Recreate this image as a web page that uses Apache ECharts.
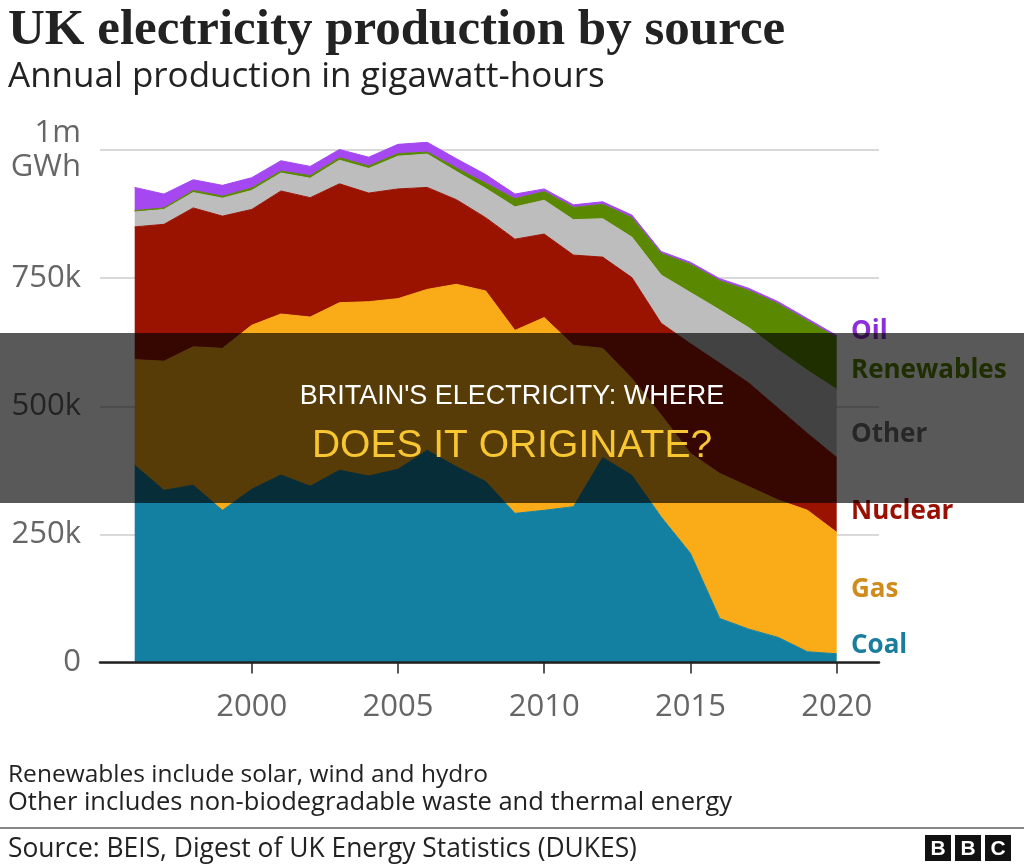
<!DOCTYPE html>
<html>
<head>
<meta charset="utf-8">
<script src="https://cdn.jsdelivr.net/npm/echarts@6/dist/echarts.min.js"></script>
<style>
    html, body { margin: 0; padding: 0; background: #fff; }
    #chart { width: 1024px; height: 864px; }
</style>
</head>
<body>
<div id="chart"></div>
<script>
// thousand GWh per year, stacked bottom to top
const years = ['1996', '1997', '1998', '1999', '2000', '2001', '2002', '2003', '2004', '2005', '2006', '2007', '2008',
    '2009', '2010', '2011', '2012', '2013', '2014', '2015', '2016', '2017', '2018', '2019', '2020']
const coal = [385, 336, 346, 297, 338, 366, 344, 375, 364, 377, 414, 382, 353,
    291, 297, 304, 400, 365, 284, 213, 86, 65, 49, 21, 17]
const gas = [206, 252, 270, 316, 320, 314, 330, 327, 340, 333, 314, 356, 372,
    357, 376, 315, 213, 189, 199, 195, 283, 278, 268, 276, 237]
const nuclear = [259, 267, 271, 258, 226, 240, 233, 232, 212, 214, 199, 165, 143,
    178, 163, 176, 178, 197, 179, 214, 215, 202, 179, 150, 146]
const other = [29, 29, 30, 35, 37, 35, 38, 46, 48, 64, 65, 55, 57,
    63, 66, 69, 75, 79, 94, 100, 104, 108, 114, 123, 133]
const renewables = [3, 3, 4, 4, 5, 4, 5, 5, 5, 5, 4, 7, 10,
    16, 17, 24, 28, 38, 42, 55, 57, 73, 90, 97, 101]
const oil = [45, 27, 21, 21, 20, 20, 18, 16, 17, 18, 19, 18, 17,
    9, 5, 5, 5, 5, 4, 4, 4, 4, 4, 4, 4]

const yTickValues = [0, 250, 500, 750, 1000]
const yTickLabels = ['0', '250k', '500k', '750k', '1m\nGWh']
const xTickValues = [2000, 2005, 2010, 2015, 2020]

const layers = [
    { name: 'Coal', values: coal, color: '#1380a1', label: '#1a7d9e' },
    { name: 'Gas', values: gas, color: '#faab18', label: '#d08b1c' },
    { name: 'Nuclear', values: nuclear, color: '#9a1200', label: '#990f02' },
    { name: 'Other', values: other, color: '#bdbdbd', label: '#707070' },
    { name: 'Renewables', values: renewables, color: '#5a8800', label: '#588300' },
    { name: 'Oil', values: oil, color: '#a548f2', label: '#8c2fd8' },
]
// where the right-hand names sit (px)
const labelY = { Coal: 646, Gas: 590, Nuclear: 512, Other: 435, Renewables: 371, Oil: 332 }

const sans = '"Open Sans", "Noto Sans", sans-serif'

const text = (x, y, str, font, fill) => ({
    type: 'text', x, y, z: 50,
    style: { text: str, font, fill, align: 'left', verticalAlign: 'middle' }
})

const chart = echarts.init(document.getElementById('chart'), null, { renderer: 'canvas' })

// grid 0 carries the visible axes (wider than the data), grid 1 the areas;
// grid 1 is taller (max 1100) so totals above 1m are not clipped, same px per GWh
const gridTop = 150, gridBottom = 201.5
const dataTop = 662.5 - (662.5 - gridTop) * 1.1
const option = {
    animation: false,
    backgroundColor: '#fff',
    grid: [
        { left: 100, right: 145, top: gridTop, bottom: gridBottom },
        { left: 134.7, right: 187.3, top: dataTop, bottom: gridBottom }
    ],
    xAxis: [
        {
            type: 'value',
            gridIndex: 0,
            min: 1994.814,
            max: 2021.446,
            z: 10,
            splitLine: { show: false },
            axisLine: { lineStyle: { color: '#222', width: 2.5 } },
            axisTick: { customValues: xTickValues, length: 11, lineStyle: { color: '#222', width: 1.5 } },
            axisLabel: {
                customValues: xTickValues,
                formatter: v => String(v),
                fontSize: 31, fontFamily: sans, color: '#666', margin: 29
            }
        },
        {
            type: 'category',
            gridIndex: 1,
            data: years,
            boundaryGap: false,
            show: false
        }
    ],
    yAxis: [
        {
            type: 'value',
            gridIndex: 0,
            min: 0,
            max: 1000,
            interval: 250,
            axisLine: { show: false },
            axisTick: { show: false },
            splitLine: { lineStyle: { color: '#cccccc', width: 1.5 } },
            axisLabel: {
                formatter: v => yTickLabels[yTickValues.indexOf(v)],
                fontSize: 31, fontFamily: sans, color: '#666', margin: 19, lineHeight: 34
            }
        },
        {
            type: 'value',
            gridIndex: 1,
            min: 0,
            max: 1100,
            show: false,
            splitLine: { show: false }
        }
    ],
    series: layers.map(l => ({
        name: l.name,
        type: 'line',
        xAxisIndex: 1,
        yAxisIndex: 1,
        stack: 'total',
        symbol: 'none',
        silent: true,
        data: l.values,
        lineStyle: { width: 1, color: l.color },
        itemStyle: { color: l.color },
        areaStyle: { color: l.color, opacity: 1 }
    })),
    graphic: [
        text(8, 31, 'UK electricity production by source', 'bold 51px "Liberation Serif"', '#222'),
        text(8, 77, 'Annual production in gigawatt-hours', '35px ' + sans, '#222'),
        ...layers.map(l => text(851, labelY[l.name], l.name, 'bold 26px ' + sans, l.label)),
        text(8, 775, 'Renewables include solar, wind and hydro', '24.5px ' + sans, '#222'),
        text(8, 803, 'Other includes non-biodegradable waste and thermal energy', '25.5px ' + sans, '#222'),
        { type: 'line', z: 50, shape: { x1: 0, y1: 828, x2: 1024, y2: 828 }, style: { stroke: '#888', lineWidth: 2 } },
        text(8, 849, 'Source: BEIS, Digest of UK Energy Statistics (DUKES)', '26.4px ' + sans, '#222'),
        ...['B', 'B', 'C'].flatMap((ch, i) => [
            { type: 'rect', z: 50, shape: { x: 925 + i * 30, y: 835, width: 26, height: 26 }, style: { fill: '#111' } },
            { type: 'text', z: 51, x: 938 + i * 30, y: 849, style: { text: ch, font: 'bold 21px "Liberation Sans"', fill: '#fff', align: 'center', verticalAlign: 'middle' } }
        ]),
        // dark banner laid over the middle of the picture
        { type: 'rect', z: 100, shape: { x: 0, y: 333, width: 1024, height: 170 }, style: { fill: 'rgba(0,0,0,0.65)' } },
        { type: 'text', z: 101, x: 512, y: 397, style: { text: "BRITAIN'S ELECTRICITY: WHERE", font: '27px "Liberation Sans"', fill: '#fff', align: 'center', verticalAlign: 'middle' } },
        { type: 'text', z: 101, x: 512, y: 446, style: { text: 'DOES IT ORIGINATE?', font: '39px "Liberation Sans"', fill: '#f8c630', align: 'center', verticalAlign: 'middle' } }
    ]
}

chart.setOption(option)
</script>
</body>
</html>
